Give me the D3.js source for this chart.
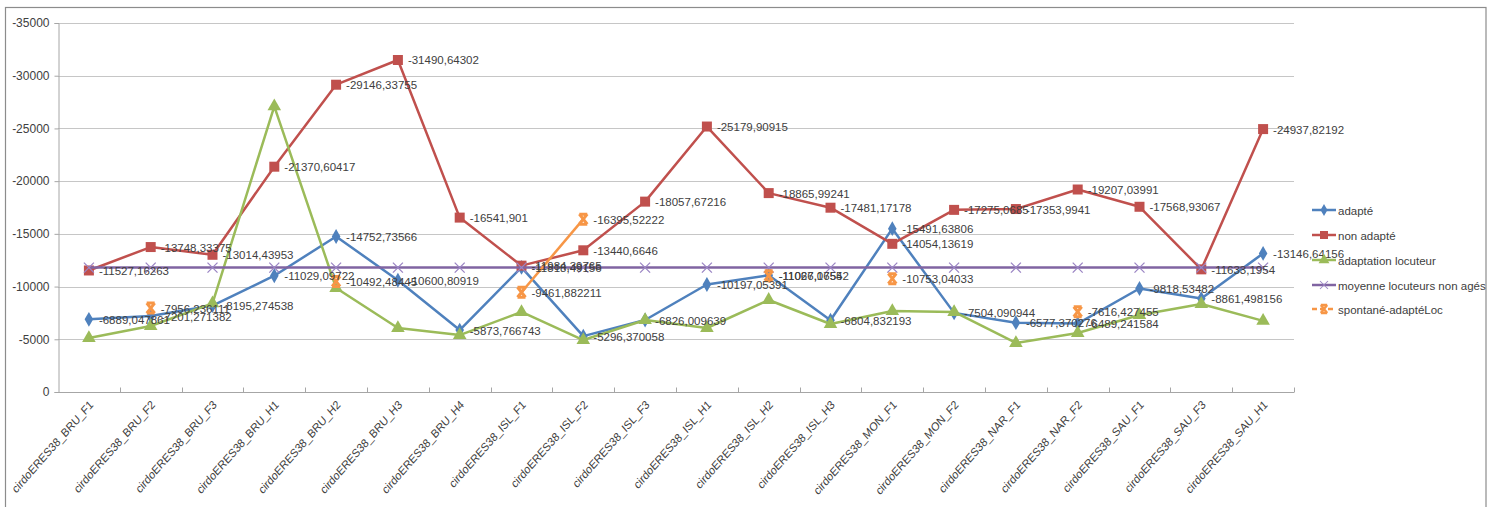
<!DOCTYPE html>
<html>
<head>
<meta charset="utf-8">
<script src="https://cdn.jsdelivr.net/npm/d3@7"></script>
<style>
    body { margin: 0; background: #fff; }
    text { font-family: "Liberation Sans", Arial, sans-serif; fill: #404040; }
</style>
</head>
<body>
<div id="chart"></div>
<script>
const categories = [
    "cirdoERES38_BRU_F1", "cirdoERES38_BRU_F2", "cirdoERES38_BRU_F3", "cirdoERES38_BRU_H1",
    "cirdoERES38_BRU_H2", "cirdoERES38_BRU_H3", "cirdoERES38_BRU_H4", "cirdoERES38_ISL_F1",
    "cirdoERES38_ISL_F2", "cirdoERES38_ISL_F3", "cirdoERES38_ISL_H1", "cirdoERES38_ISL_H2",
    "cirdoERES38_ISL_H3", "cirdoERES38_MON_F1", "cirdoERES38_MON_F2", "cirdoERES38_NAR_F1",
    "cirdoERES38_NAR_F2", "cirdoERES38_SAU_F1", "cirdoERES38_SAU_F3", "cirdoERES38_SAU_H1"
];

const adapte = [
    -6889.047861, -7201.271382, -8195.274538, -11029.09722, -14752.73566, -10600.80919, -5873.766743,
    -11818.49156, -5296.370058, -6826.009639, -10197.05391, -11067.1655, -6804.832193, -15491.63806,
    -7504.090944, -6577.370276, -6489.241584, -9818.53482, -8861.498156, -13146.64156
];

const nonAdapte = [
    -11527.16263, -13748.33375, -13014.43953, -21370.60417, -29146.33755, -31490.64302, -16541.901,
    -11984.39765, -13440.6646, -18057.67216, -25179.90915, -18865.99241, -17481.17178, -14054.13619,
    -17275.0685, -17353.9941, -19207.03991, -17568.93067, -11633.1954, -24937.82192
];

const adaptationLocuteur = [
    -5120, -6260, -8400, -27100, -9860, -6070, -5400, -7590, -4930, -6830,
    -6070, -8730, -6450, -7680, -7590, -4650, -5600, -7300, -8350, -6750
];

const moyenneNonAges = [
    -11800, -11800, -11800, -11800, -11800, -11800, -11800, -11800, -11800, -11800,
    -11800, -11800, -11800, -11800, -11800, -11800, -11800, -11800, -11800, -11800
];

const spontaneAdapteLoc = [
    null, -7956.236111, null, null, -10492.48445, null, null, -9461.882211, -16395.52222, null,
    null, -11026.07542, null, -10753.04033, null, null, -7616.427455, null, null, null
];

const yTicks = [0, -5000, -10000, -15000, -20000, -25000, -30000, -35000];

const series = [
    { name: "adapté", values: adapte, color: "#4F81BD", marker: "diamond", labels: true },
    { name: "non adapté", values: nonAdapte, color: "#C0504D", marker: "square", labels: true },
    { name: "adaptation locuteur", values: adaptationLocuteur, color: "#9BBB59", marker: "triangle", labels: false },
    { name: "moyenne locuteurs non agés", values: moyenneNonAges, color: "#8064A2", marker: "cross", labels: false },
    { name: "spontané-adaptéLoc", values: spontaneAdapteLoc, color: "#F79646", marker: "star", labels: true }
];

const width = 1496;
const height = 507;

const svg = d3.select("#chart").append("svg")
    .attr("width", width)
    .attr("height", height);

// outer frame
svg.append("rect")
    .attr("x", 5.5).attr("y", 7.5)
    .attr("width", 1480.5).attr("height", 520)
    .attr("fill", "none")
    .attr("stroke", "#8c8c8c")
    .attr("stroke-width", 1.2);

const x = d3.scaleBand().domain(categories).range([58, 1294]);
const y = d3.scaleLinear().domain([0, -35000]).range([392, 23]);
const cx = c => x(c) + x.bandwidth() / 2;

// gridlines
svg.append("g")
    .selectAll("line")
    .data(yTicks.filter(t => t !== 0))
    .enter()
    .append("line")
    .attr("x1", 58).attr("x2", 1294)
    .attr("y1", d => Math.round(y(d)) + 0.5)
    .attr("y2", d => Math.round(y(d)) + 0.5)
    .attr("stroke", "#c6c6c6");

// y axis
const yAxis = svg.append("g")
    .attr("transform", "translate(58.5,0)")
    .call(d3.axisLeft(y).tickValues(yTicks).tickSize(4).tickPadding(5).tickFormat(d => String(d)));
yAxis.select(".domain").attr("stroke", "#a6a6a6");
yAxis.selectAll(".tick line").attr("stroke", "#a6a6a6");
yAxis.selectAll(".tick text")
    .attr("font-size", "12px")
    .attr("fill", "#404040")
    .attr("font-family", "Liberation Sans, Arial, sans-serif");

// x axis
const xAxis = svg.append("g")
    .attr("transform", "translate(0,392.5)");
xAxis.append("line")
    .attr("x1", 58).attr("x2", 1294)
    .attr("stroke", "#a6a6a6");
xAxis.selectAll("line.tick")
    .data(categories)
    .enter()
    .append("line")
    .attr("class", "tick")
    .attr("x1", d => Math.round(x(d) + x.bandwidth()) + 0.5)
    .attr("x2", d => Math.round(x(d) + x.bandwidth()) + 0.5)
    .attr("y1", -5).attr("y2", 0)
    .attr("stroke", "#a6a6a6");
xAxis.selectAll("text")
    .data(categories)
    .enter()
    .append("text")
    .attr("transform", d => `translate(${cx(d) + 5},13) scale(0.88,1) rotate(-45)`)
    .attr("text-anchor", "end")
    .attr("font-size", "12px")
    .text(d => d);

function markerPath(type) {
    if (type === "diamond") return d3.symbol(d3.symbolDiamond, 64)();
    if (type === "square") return d3.symbol(d3.symbolSquare, 100)();
    if (type === "triangle") return d3.symbol(d3.symbolTriangle, 80)();
    if (type === "cross") return "M-5,-5L5,5M5,-5L-5,5";
    return "M-4,-5L4,-5M-4,5L4,5M-4,-5L4,5M4,-5L-4,5";
}

function drawMarker(g, type, color) {
    const p = g.append("path").attr("d", markerPath(type));
    if (type === "cross") {
        p.attr("fill", "none").attr("stroke", "#9b85c4").attr("stroke-width", 1.3);
    } else if (type === "star") {
        p.attr("fill", "none").attr("stroke", color).attr("stroke-width", 3);
    } else {
        p.attr("fill", color);
    }
}

const line = d3.line()
    .defined(d => d.v !== null)
    .x(d => cx(d.c))
    .y(d => y(d.v));

series.forEach(s => {
    const pts = s.values.map((v, i) => ({ c: categories[i], v: v }));
    svg.append("path")
        .datum(pts)
        .attr("d", line)
        .attr("fill", "none")
        .attr("stroke", s.color)
        .attr("stroke-width", 2.5)
        .attr("stroke-linejoin", "round");
    pts.filter(d => d.v !== null).forEach(d => {
        const g = svg.append("g").attr("transform", `translate(${cx(d.c)},${y(d.v)})`);
        drawMarker(g, s.marker, s.color);
    });
});

// data labels
series.filter(s => s.labels).forEach(s => {
    svg.append("g")
        .selectAll("text")
        .data(s.values.map((v, i) => ({ c: categories[i], v: v })).filter(d => d.v !== null))
        .enter()
        .append("text")
        .attr("x", d => cx(d.c) + 10)
        .attr("y", d => y(d.v) + 4.5)
        .attr("font-size", "11.5px")
        .attr("fill", "#333")
        .text(d => String(d.v).replace(".", ","));
});

// legend
const legend = svg.append("g");
const legendY = [210, 235, 260, 285, 309];
series.forEach((s, i) => {
    const g = legend.append("g").attr("transform", `translate(1312,${legendY[i]})`);
    g.append("line")
        .attr("x1", 0).attr("x2", 24)
        .attr("stroke", s.color)
        .attr("stroke-width", 2.5)
        .attr("stroke-dasharray", s.marker === "star" ? "5,3" : null);
    const m = g.append("g").attr("transform", "translate(12,0) scale(0.8)");
    drawMarker(m, s.marker, s.color);
    g.append("text")
        .attr("x", 26)
        .attr("y", 4.5)
        .attr("font-size", "11.5px")
        .attr("fill", "#333")
        .text(s.name);
});
</script>
</body>
</html>
